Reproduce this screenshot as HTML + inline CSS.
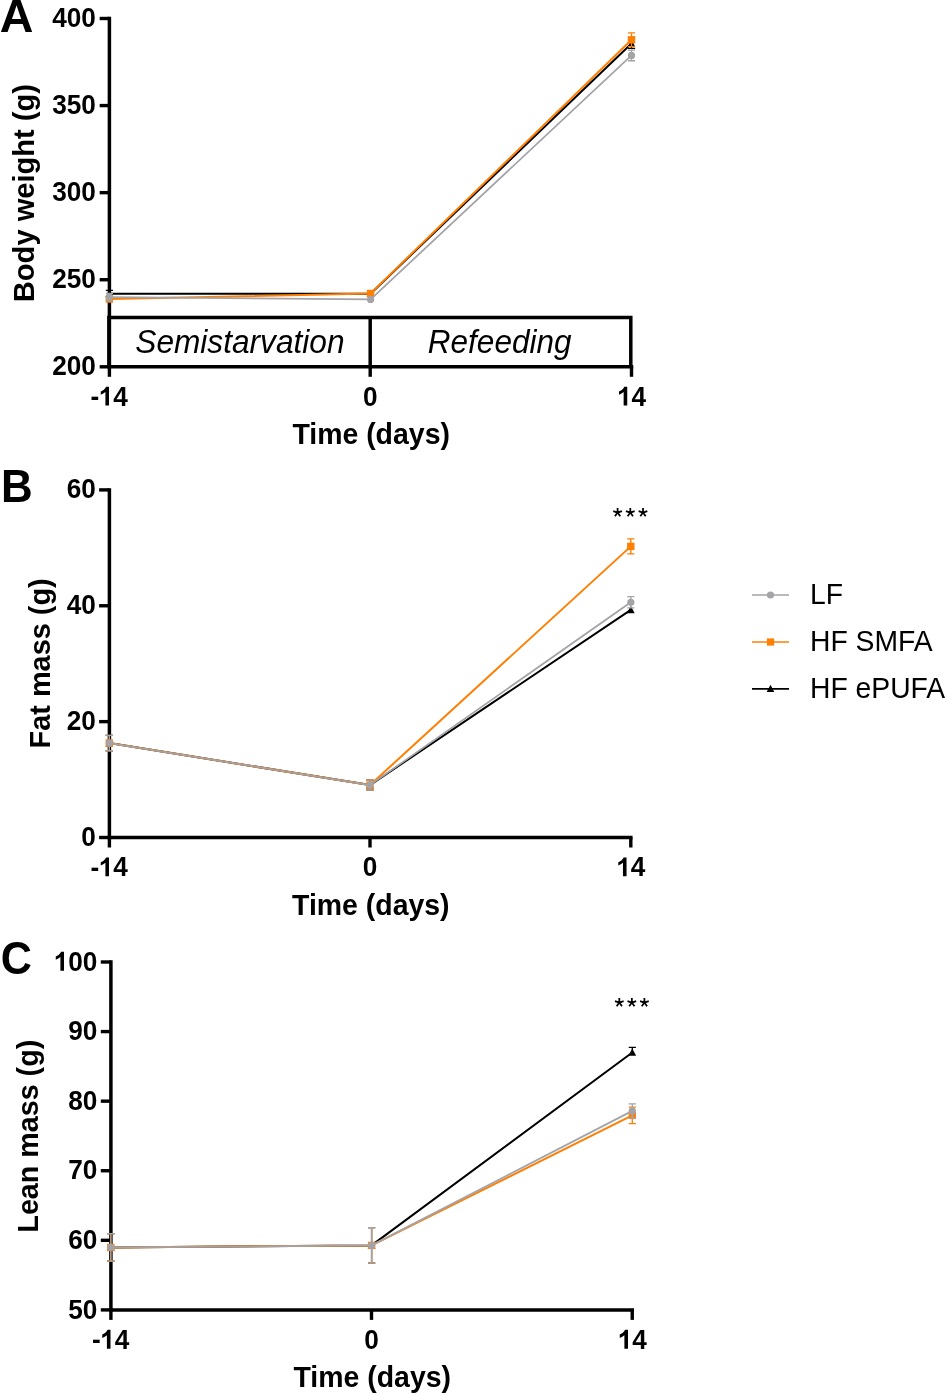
<!DOCTYPE html>
<html><head><meta charset="utf-8"><title>Figure</title>
<style>html,body{margin:0;padding:0;background:#fff;}svg{display:block;will-change:transform;}text{font-family:"Liberation Sans", sans-serif;fill:#000;}</style>
</head><body>
<svg width="945" height="1394" viewBox="0 0 945 1394">
<rect width="945" height="1394" fill="#fff"/>
<text transform="translate(-0.2 31.7) scale(1.035 1.04)" font-size="45" font-weight="bold">A</text>
<path d="M109.4 16.75 V368.55" stroke="#000" stroke-width="3.5" fill="none"/>
<path d="M107.65 366.8 H633.25" stroke="#000" stroke-width="3.5" fill="none"/>
<path d="M99.65 18.50 H109.4" stroke="#000" stroke-width="3.4" fill="none"/>
<text transform="translate(52.19 27.05) scale(1 1.04)" font-size="26.2" font-weight="bold">400</text>
<path d="M99.65 105.57 H109.4" stroke="#000" stroke-width="3.4" fill="none"/>
<text transform="translate(52.19 114.12) scale(1 1.04)" font-size="26.2" font-weight="bold">350</text>
<path d="M99.65 192.65 H109.4" stroke="#000" stroke-width="3.4" fill="none"/>
<text transform="translate(52.19 201.20) scale(1 1.04)" font-size="26.2" font-weight="bold">300</text>
<path d="M99.65 279.73 H109.4" stroke="#000" stroke-width="3.4" fill="none"/>
<text transform="translate(52.19 288.28) scale(1 1.04)" font-size="26.2" font-weight="bold">250</text>
<path d="M99.65 366.80 H109.4" stroke="#000" stroke-width="3.4" fill="none"/>
<text transform="translate(52.19 375.35) scale(1 1.04)" font-size="26.2" font-weight="bold">200</text>
<path d="M109.4 366.8 V376.8" stroke="#000" stroke-width="3.4" fill="none"/>
<text transform="translate(90.57 406.10) scale(1 1.04)" font-size="26.2" font-weight="bold">-</text>
<path transform="translate(98.69 405.60) scale(0.01279)" d="M806 0H525V-1059Q371 -915 162 -846V-1101Q272 -1137 401 -1237.5Q530 -1338 578 -1472H806Z" fill="#000"/>
<text transform="translate(113.26 405.60) scale(1 1.04)" font-size="26.2" font-weight="bold">4</text>
<path d="M370.2 366.8 V376.8" stroke="#000" stroke-width="3.4" fill="none"/>
<text transform="translate(362.91 405.60) scale(1 1.04)" font-size="26.2" font-weight="bold">0</text>
<path d="M631.5 366.8 V376.8" stroke="#000" stroke-width="3.4" fill="none"/>
<path transform="translate(616.93 405.60) scale(0.01279)" d="M806 0H525V-1059Q371 -915 162 -846V-1101Q272 -1137 401 -1237.5Q530 -1338 578 -1472H806Z" fill="#000"/>
<text transform="translate(631.50 405.60) scale(1 1.04)" font-size="26.2" font-weight="bold">4</text>
<text transform="translate(371.15 444.20) scale(1 1.04)" font-size="28.45" font-weight="bold" text-anchor="middle">Time (days)</text>
<text transform="translate(33.70 193.10) rotate(-90) scale(1 1.04)" font-size="29.1" font-weight="bold" text-anchor="middle">Body weight (g)</text>
<path d="M108.9 366.8 V317.60 H630.8 V366.8" stroke="#000" stroke-width="3.5" fill="none" stroke-linejoin="miter"/>
<path d="M370.2 317.60 V366.8" stroke="#000" stroke-width="3.5" fill="none"/>
<text transform="translate(239.90 352.50) scale(1 1.04)" font-size="31.65" font-style="italic" text-anchor="middle">Semistarvation</text>
<text transform="translate(499.65 352.50) scale(1 1.04)" font-size="31.5" font-style="italic" text-anchor="middle">Refeeding</text>
<path d="M109.40 293.66 L370.60 293.66 L631.50 43.58" stroke="#000" stroke-width="2.0" fill="none" stroke-linejoin="round"/>
<path d="M109.40 290.35 V296.97 M105.80 290.35 h7.2 M105.80 296.97 h7.2" stroke="#000" stroke-width="1.3" fill="none"/>
<path d="M109.40 289.66 L113.25 297.06 H105.55 Z" fill="#000"/>
<path d="M370.60 289.66 L374.45 297.06 H366.75 Z" fill="#000"/>
<path d="M631.50 38.79 V48.37 M627.90 38.79 h7.2 M627.90 48.37 h7.2" stroke="#000" stroke-width="1.3" fill="none"/>
<path d="M631.50 39.58 L635.35 46.98 H627.65 Z" fill="#000"/>
<path d="M109.40 299.06 L370.60 293.48 L631.50 39.75" stroke="#ff7f03" stroke-width="2.0" fill="none" stroke-linejoin="round"/>
<rect x="105.70" y="295.36" width="7.4" height="7.4" fill="#ff7f03"/>
<rect x="366.90" y="289.78" width="7.4" height="7.4" fill="#ff7f03"/>
<path d="M631.50 32.95 V46.54 M627.90 32.95 h7.2 M627.90 46.54 h7.2" stroke="#ff7f03" stroke-width="1.3" fill="none"/>
<rect x="627.80" y="36.05" width="7.4" height="7.4" fill="#ff7f03"/>
<path d="M109.40 297.14 L370.60 299.40 L631.50 55.42" stroke="#a3a3a8" stroke-width="1.75" fill="none" stroke-linejoin="round"/>
<path d="M109.40 293.40 V300.88 M105.80 293.40 h7.2 M105.80 300.88 h7.2" stroke="#a3a3a8" stroke-width="1.3" fill="none"/>
<circle cx="109.40" cy="297.14" r="3.6" fill="#a3a3a8"/>
<circle cx="370.60" cy="299.40" r="3.6" fill="#a3a3a8"/>
<path d="M631.50 50.11 V60.73 M627.90 50.11 h7.2 M627.90 60.73 h7.2" stroke="#a3a3a8" stroke-width="1.3" fill="none"/>
<circle cx="631.50" cy="55.42" r="3.6" fill="#a3a3a8"/>
<text transform="translate(0.9 502.0) scale(0.975 1.04)" font-size="45" font-weight="bold">B</text>
<path d="M109.4 488.15 V839.25" stroke="#000" stroke-width="3.5" fill="none"/>
<path d="M107.65 837.5 H632.55" stroke="#000" stroke-width="3.5" fill="none"/>
<path d="M99.10 489.90 H109.4" stroke="#000" stroke-width="3.4" fill="none"/>
<text transform="translate(66.76 498.20) scale(1 1.04)" font-size="26.2" font-weight="bold">60</text>
<path d="M99.10 605.77 H109.4" stroke="#000" stroke-width="3.4" fill="none"/>
<text transform="translate(66.76 614.07) scale(1 1.04)" font-size="26.2" font-weight="bold">40</text>
<path d="M99.10 721.63 H109.4" stroke="#000" stroke-width="3.4" fill="none"/>
<text transform="translate(66.76 729.93) scale(1 1.04)" font-size="26.2" font-weight="bold">20</text>
<path d="M99.10 837.50 H109.4" stroke="#000" stroke-width="3.4" fill="none"/>
<text transform="translate(81.33 845.80) scale(1 1.04)" font-size="26.2" font-weight="bold">0</text>
<path d="M109.4 837.5 V847.5" stroke="#000" stroke-width="3.4" fill="none"/>
<text transform="translate(90.57 876.80) scale(1 1.04)" font-size="26.2" font-weight="bold">-</text>
<path transform="translate(98.69 876.30) scale(0.01279)" d="M806 0H525V-1059Q371 -915 162 -846V-1101Q272 -1137 401 -1237.5Q530 -1338 578 -1472H806Z" fill="#000"/>
<text transform="translate(113.26 876.30) scale(1 1.04)" font-size="26.2" font-weight="bold">4</text>
<path d="M370.0 837.5 V847.5" stroke="#000" stroke-width="3.4" fill="none"/>
<text transform="translate(362.71 876.30) scale(1 1.04)" font-size="26.2" font-weight="bold">0</text>
<path d="M630.8 837.5 V847.5" stroke="#000" stroke-width="3.4" fill="none"/>
<path transform="translate(616.23 876.30) scale(0.01279)" d="M806 0H525V-1059Q371 -915 162 -846V-1101Q272 -1137 401 -1237.5Q530 -1338 578 -1472H806Z" fill="#000"/>
<text transform="translate(630.80 876.30) scale(1 1.04)" font-size="26.2" font-weight="bold">4</text>
<text transform="translate(370.80 914.90) scale(1 1.04)" font-size="28.45" font-weight="bold" text-anchor="middle">Time (days)</text>
<text transform="translate(50.00 663.40) rotate(-90) scale(1 1.04)" font-size="28.9" font-weight="bold" text-anchor="middle">Fat mass (g)</text>
<path d="M109.30 743.07 L370.00 785.07 L630.80 609.82" stroke="#000" stroke-width="2.0" fill="none" stroke-linejoin="round"/>
<path d="M109.30 735.36 V750.77 M105.70 735.36 h7.2 M105.70 750.77 h7.2" stroke="#000" stroke-width="1.3" fill="none"/>
<path d="M109.30 739.07 L113.15 746.47 H105.45 Z" fill="#000"/>
<path d="M370.00 780.03 V790.11 M366.40 780.03 h7.2 M366.40 790.11 h7.2" stroke="#000" stroke-width="1.3" fill="none"/>
<path d="M370.00 781.07 L373.85 788.47 H366.15 Z" fill="#000"/>
<path d="M630.80 605.82 L634.65 613.22 H626.95 Z" fill="#000"/>
<path d="M109.30 743.07 L370.00 785.07 L630.80 546.38" stroke="#ff7f03" stroke-width="2.0" fill="none" stroke-linejoin="round"/>
<path d="M109.30 735.36 V750.77 M105.70 735.36 h7.2 M105.70 750.77 h7.2" stroke="#ff7f03" stroke-width="1.3" fill="none"/>
<rect x="105.60" y="739.37" width="7.4" height="7.4" fill="#ff7f03"/>
<path d="M370.00 780.03 V790.11 M366.40 780.03 h7.2 M366.40 790.11 h7.2" stroke="#ff7f03" stroke-width="1.3" fill="none"/>
<rect x="366.30" y="781.37" width="7.4" height="7.4" fill="#ff7f03"/>
<path d="M630.80 538.85 V553.92 M627.20 538.85 h7.2 M627.20 553.92 h7.2" stroke="#ff7f03" stroke-width="1.3" fill="none"/>
<rect x="627.10" y="542.68" width="7.4" height="7.4" fill="#ff7f03"/>
<path d="M109.30 743.07 L370.00 785.07 L630.80 602.29" stroke="#a3a3a8" stroke-width="1.75" fill="none" stroke-linejoin="round"/>
<path d="M109.30 735.36 V750.77 M105.70 735.36 h7.2 M105.70 750.77 h7.2" stroke="#a3a3a8" stroke-width="1.3" fill="none"/>
<circle cx="109.30" cy="743.07" r="3.6" fill="#a3a3a8"/>
<path d="M370.00 780.03 V790.11 M366.40 780.03 h7.2 M366.40 790.11 h7.2" stroke="#a3a3a8" stroke-width="1.3" fill="none"/>
<circle cx="370.00" cy="785.07" r="3.6" fill="#a3a3a8"/>
<path d="M630.80 596.61 V607.97 M627.20 596.61 h7.2 M627.20 607.97 h7.2" stroke="#a3a3a8" stroke-width="1.3" fill="none"/>
<circle cx="630.80" cy="602.29" r="3.6" fill="#a3a3a8"/>
<path d="M617.60 512.60L617.60 508.05M617.60 512.60L621.93 511.19M617.60 512.60L620.27 516.28M617.60 512.60L614.93 516.28M617.60 512.60L613.27 511.19" stroke="#000" stroke-width="1.75" fill="none"/>
<path d="M630.30 512.60L630.30 508.05M630.30 512.60L634.63 511.19M630.30 512.60L632.97 516.28M630.30 512.60L627.63 516.28M630.30 512.60L625.97 511.19" stroke="#000" stroke-width="1.75" fill="none"/>
<path d="M643.00 512.60L643.00 508.05M643.00 512.60L647.33 511.19M643.00 512.60L645.67 516.28M643.00 512.60L640.33 516.28M643.00 512.60L638.67 511.19" stroke="#000" stroke-width="1.75" fill="none"/>
<text transform="translate(0.7 973.6) scale(0.96 1.04)" font-size="45" font-weight="bold">C</text>
<path d="M110.9 960.25 V1311.65" stroke="#000" stroke-width="3.5" fill="none"/>
<path d="M109.15 1309.9 H634.0" stroke="#000" stroke-width="3.5" fill="none"/>
<path d="M100.80 962.00 H110.9" stroke="#000" stroke-width="3.4" fill="none"/>
<path transform="translate(53.69 970.65) scale(0.01279)" d="M806 0H525V-1059Q371 -915 162 -846V-1101Q272 -1137 401 -1237.5Q530 -1338 578 -1472H806Z" fill="#000"/>
<text transform="translate(68.26 970.65) scale(1 1.04)" font-size="26.2" font-weight="bold">00</text>
<path d="M100.80 1031.58 H110.9" stroke="#000" stroke-width="3.4" fill="none"/>
<text transform="translate(68.26 1040.23) scale(1 1.04)" font-size="26.2" font-weight="bold">90</text>
<path d="M100.80 1101.16 H110.9" stroke="#000" stroke-width="3.4" fill="none"/>
<text transform="translate(68.26 1109.81) scale(1 1.04)" font-size="26.2" font-weight="bold">80</text>
<path d="M100.80 1170.74 H110.9" stroke="#000" stroke-width="3.4" fill="none"/>
<text transform="translate(68.26 1179.39) scale(1 1.04)" font-size="26.2" font-weight="bold">70</text>
<path d="M100.80 1240.32 H110.9" stroke="#000" stroke-width="3.4" fill="none"/>
<text transform="translate(68.26 1248.97) scale(1 1.04)" font-size="26.2" font-weight="bold">60</text>
<path d="M100.80 1309.90 H110.9" stroke="#000" stroke-width="3.4" fill="none"/>
<text transform="translate(68.26 1318.55) scale(1 1.04)" font-size="26.2" font-weight="bold">50</text>
<path d="M110.9 1309.9 V1319.9" stroke="#000" stroke-width="3.4" fill="none"/>
<text transform="translate(92.07 1349.20) scale(1 1.04)" font-size="26.2" font-weight="bold">-</text>
<path transform="translate(100.19 1348.70) scale(0.01279)" d="M806 0H525V-1059Q371 -915 162 -846V-1101Q272 -1137 401 -1237.5Q530 -1338 578 -1472H806Z" fill="#000"/>
<text transform="translate(114.76 1348.70) scale(1 1.04)" font-size="26.2" font-weight="bold">4</text>
<path d="M371.5 1309.9 V1319.9" stroke="#000" stroke-width="3.4" fill="none"/>
<text transform="translate(364.21 1348.70) scale(1 1.04)" font-size="26.2" font-weight="bold">0</text>
<path d="M632.25 1309.9 V1319.9" stroke="#000" stroke-width="3.4" fill="none"/>
<path transform="translate(617.68 1348.70) scale(0.01279)" d="M806 0H525V-1059Q371 -915 162 -846V-1101Q272 -1137 401 -1237.5Q530 -1338 578 -1472H806Z" fill="#000"/>
<text transform="translate(632.25 1348.70) scale(1 1.04)" font-size="26.2" font-weight="bold">4</text>
<text transform="translate(372.27 1387.30) scale(1 1.04)" font-size="28.45" font-weight="bold" text-anchor="middle">Time (days)</text>
<text transform="translate(38.40 1136.20) rotate(-90) scale(1 1.04)" font-size="28.7" font-weight="bold" text-anchor="middle">Lean mass (g)</text>
<path d="M110.80 1247.42 L371.60 1245.40 L632.30 1052.45" stroke="#000" stroke-width="2.0" fill="none" stroke-linejoin="round"/>
<path d="M110.80 1233.64 V1261.19 M107.20 1233.64 h7.2 M107.20 1261.19 h7.2" stroke="#000" stroke-width="1.3" fill="none"/>
<path d="M110.80 1243.42 L114.65 1250.82 H106.95 Z" fill="#000"/>
<path d="M371.60 1227.59 V1263.21 M368.00 1227.59 h7.2 M368.00 1263.21 h7.2" stroke="#000" stroke-width="1.3" fill="none"/>
<path d="M371.60 1241.40 L375.45 1248.80 H367.75 Z" fill="#000"/>
<path d="M632.30 1047.44 V1052.45 M628.70 1047.44 h7.2" stroke="#000" stroke-width="1.3" fill="none"/>
<path d="M632.30 1048.45 L636.15 1055.85 H628.45 Z" fill="#000"/>
<path d="M110.80 1247.42 L371.60 1245.40 L632.30 1115.42" stroke="#ff7f03" stroke-width="2.0" fill="none" stroke-linejoin="round"/>
<path d="M110.80 1233.64 V1261.19 M107.20 1233.64 h7.2 M107.20 1261.19 h7.2" stroke="#ff7f03" stroke-width="1.3" fill="none"/>
<rect x="107.10" y="1243.72" width="7.4" height="7.4" fill="#ff7f03"/>
<path d="M371.60 1227.59 V1263.21 M368.00 1227.59 h7.2 M368.00 1263.21 h7.2" stroke="#ff7f03" stroke-width="1.3" fill="none"/>
<rect x="367.90" y="1241.70" width="7.4" height="7.4" fill="#ff7f03"/>
<path d="M632.30 1107.21 V1123.63 M628.70 1107.21 h7.2 M628.70 1123.63 h7.2" stroke="#ff7f03" stroke-width="1.3" fill="none"/>
<rect x="628.60" y="1111.72" width="7.4" height="7.4" fill="#ff7f03"/>
<path d="M110.80 1247.42 L371.60 1245.40 L632.30 1110.90" stroke="#a3a3a8" stroke-width="1.75" fill="none" stroke-linejoin="round"/>
<path d="M110.80 1233.64 V1261.19 M107.20 1233.64 h7.2 M107.20 1261.19 h7.2" stroke="#a3a3a8" stroke-width="1.3" fill="none"/>
<circle cx="110.80" cy="1247.42" r="3.6" fill="#a3a3a8"/>
<path d="M371.60 1227.59 V1263.21 M368.00 1227.59 h7.2 M368.00 1263.21 h7.2" stroke="#a3a3a8" stroke-width="1.3" fill="none"/>
<circle cx="371.60" cy="1245.40" r="3.6" fill="#a3a3a8"/>
<path d="M632.30 1103.80 V1118.00 M628.70 1103.80 h7.2 M628.70 1118.00 h7.2" stroke="#a3a3a8" stroke-width="1.3" fill="none"/>
<circle cx="632.30" cy="1110.90" r="3.6" fill="#a3a3a8"/>
<path d="M619.30 1002.60L619.30 998.05M619.30 1002.60L623.63 1001.19M619.30 1002.60L621.97 1006.28M619.30 1002.60L616.63 1006.28M619.30 1002.60L614.97 1001.19" stroke="#000" stroke-width="1.75" fill="none"/>
<path d="M631.85 1002.60L631.85 998.05M631.85 1002.60L636.18 1001.19M631.85 1002.60L634.52 1006.28M631.85 1002.60L629.18 1006.28M631.85 1002.60L627.52 1001.19" stroke="#000" stroke-width="1.75" fill="none"/>
<path d="M644.40 1002.60L644.40 998.05M644.40 1002.60L648.73 1001.19M644.40 1002.60L647.07 1006.28M644.40 1002.60L641.73 1006.28M644.40 1002.60L640.07 1001.19" stroke="#000" stroke-width="1.75" fill="none"/>
<path d="M752 595.0 H789" stroke="#a3a3a8" stroke-width="1.6"/>
<circle cx="770.5" cy="595.0" r="3.6" fill="#a3a3a8"/>
<text transform="translate(810.00 604.30) scale(1 1.04)" font-size="28.3">LF</text>
<path d="M752 642.0 H789" stroke="#ff7f03" stroke-width="1.6"/>
<rect x="766.9" y="638.4" width="7.2" height="7.2" fill="#ff7f03"/>
<text transform="translate(810.00 651.30) scale(1 1.04)" font-size="28.3">HF SMFA</text>
<path d="M752 688.9 H789" stroke="#000" stroke-width="1.6"/>
<path d="M770.5 684.6999999999999 L774.3 692.1 H766.7 Z" fill="#000"/>
<text transform="translate(810.00 697.60) scale(1 1.04)" font-size="28.3">HF ePUFA</text>
</svg>
</body></html>
